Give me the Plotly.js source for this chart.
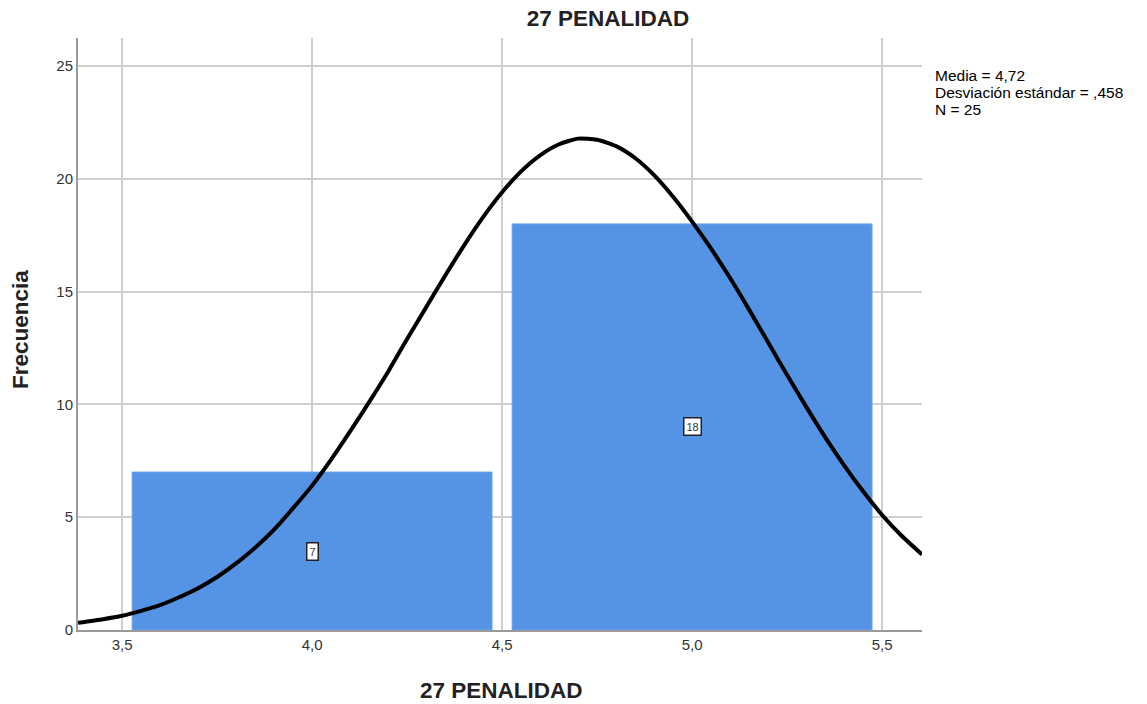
<!DOCTYPE html>
<html>
<head>
<meta charset="utf-8">
<script src="https://cdn.plot.ly/plotly-3.0.1.min.js"></script>
<style>html,body{margin:0;padding:0;background:#fff;}#chart{width:1147px;height:704px;}</style>
</head>
<body>
<div id="chart"></div>
<script>
// Histogram bins (centers) and frequencies
const binCenters = [4.0, 5.0];
const frequencies = [7, 18];
const binLabels = ["7", "18"];

// Normal curve points
const curveX = [3.384, 3.45, 3.5, 3.55, 3.6, 3.65, 3.7, 3.75, 3.8, 3.85, 3.9, 3.95, 4.0, 4.05, 4.1, 4.15, 4.2, 4.25, 4.3, 4.35, 4.4, 4.45, 4.5, 4.55, 4.6, 4.65, 4.7, 4.75, 4.8, 4.85, 4.9, 4.95, 5.0, 5.05, 5.1, 5.15, 5.2, 5.25, 5.3, 5.35, 5.4, 5.45, 5.5, 5.55, 5.605];
const curveY = [0.32, 0.48, 0.63, 0.85, 1.1, 1.45, 1.85, 2.35, 2.95, 3.65, 4.45, 5.4, 6.4, 7.55, 8.8, 10.1, 11.45, 12.9, 14.3, 15.7, 17.05, 18.3, 19.4, 20.33, 21.04, 21.53, 21.78, 21.73, 21.45, 20.92, 20.16, 19.2, 18.1, 16.9, 15.6, 14.2, 12.75, 11.3, 9.9, 8.55, 7.3, 6.15, 5.1, 4.2, 3.35];

// Statistics text
const statsLines = ["Media = 4,72", "Desviación estándar = ,458", "N = 25"];
const chartTitle = "27 PENALIDAD";
const xTitle = "27 PENALIDAD";
const yTitle = "Frecuencia";
const xTickVals = [3.5, 4.0, 4.5, 5.0, 5.5];
const xTickText = ["3,5", "4,0", "4,5", "5,0", "5,5"];
const yTickVals = [0, 5, 10, 15, 20, 25];

const font = "Arial, 'Liberation Sans', sans-serif";

const L = 78, R = 225, T = 38, B = 74, W = 1147, H = 704;
const pw = W - L - R, ph = H - T - B;
const px = x => (x - L) / pw;
const py = y => 1 - (y - T) / ph;

const traces = [
  {
    type: "bar",
    x: binCenters,
    y: frequencies,
    width: binCenters.map(() => 0.947),
    marker: {color: "#5594e4", line: {color: "#6aa2ea", width: 1}},
    hoverinfo: "skip"
  },
  {
    type: "scatter",
    mode: "lines",
    x: curveX,
    y: curveY,
    line: {color: "#000000", width: 4, shape: "spline", smoothing: 0.6},
    cliponaxis: true,
    hoverinfo: "skip"
  }
];

const annotations = [];
binCenters.forEach((c, i) => {
  annotations.push({
    x: c, y: frequencies[i] / 2, xref: "x", yref: "y",
    text: binLabels[i], showarrow: false,
    font: {family: font, size: 11, color: "#333"},
    bgcolor: "#ffffff", bordercolor: "#222", borderwidth: 1.5, borderpad: 2
  });
});
statsLines.forEach((t, i) => {
  annotations.push({
    x: px(933), y: py(75 + i * 17), xref: "paper", yref: "paper",
    text: t, showarrow: false, xanchor: "left", yanchor: "middle",
    font: {family: font, size: 15.5, color: "#000"}
  });
});
// axis titles
annotations.push({
  x: px(501), y: py(690), xref: "paper", yref: "paper",
  text: "<b>" + xTitle + "</b>", showarrow: false, xanchor: "center", yanchor: "middle",
  font: {family: font, size: 22.5, color: "#222"}
});
annotations.push({
  x: px(20), y: py(330), xref: "paper", yref: "paper",
  text: "<b>" + yTitle + "</b>", showarrow: false, xanchor: "center", yanchor: "middle",
  textangle: -90,
  font: {family: font, size: 22.5, color: "#222"}
});

const layout = {
  width: W, height: H,
  margin: {l: L, r: R, t: T, b: B, pad: 0},
  paper_bgcolor: "#ffffff",
  plot_bgcolor: "#ffffff",
  showlegend: false,
  bargap: 0,
  title: {
    text: "<b>" + chartTitle + "</b>",
    x: 608 / W, xanchor: "center", xref: "container",
    y: 1 - 18 / H, yanchor: "middle",
    font: {family: font, size: 22.5, color: "#222"}
  },
  xaxis: {
    range: [3.384, 5.605],
    tickvals: xTickVals, ticktext: xTickText,
    showgrid: true, gridcolor: "#cfcfcf", gridwidth: 2,
    zeroline: false,
    showline: true, linecolor: "#9a9a9a", linewidth: 2,
    ticks: "", tickfont: {family: font, size: 15, color: "#333"}
  },
  yaxis: {
    range: [0, 26.24],
    tickvals: yTickVals,
    showgrid: true, gridcolor: "#cfcfcf", gridwidth: 2,
    zeroline: false,
    showline: true, linecolor: "#9a9a9a", linewidth: 2,
    ticks: "", tickfont: {family: font, size: 15, color: "#333"}
  },
  annotations: annotations
};

Plotly.newPlot("chart", traces, layout, {displayModeBar: false, staticPlot: true});
</script>
</body>
</html>
